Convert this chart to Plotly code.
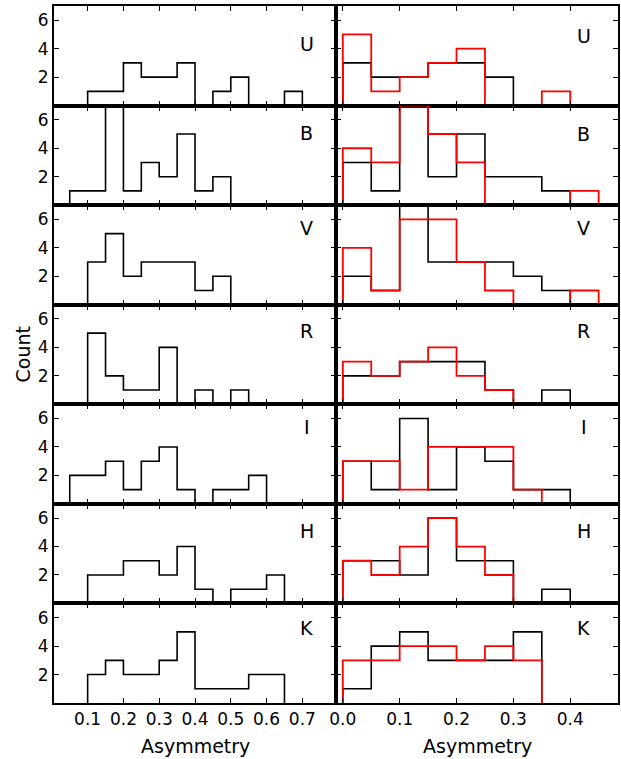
import numpy as np
import plotly.graph_objects as go
from plotly.subplots import make_subplots

bands = ["U", "B", "V", "R", "I", "H", "K"]

# Left column: bins of width 0.05 starting at 0.05
left_edges = np.round(0.05 + 0.05 * np.arange(14), 2)
left_U = [0, 1, 1, 3, 2, 2, 3, 0, 1, 2, 0, 0, 1]
left_B = [1, 1, 7, 1, 3, 2, 5, 1, 2, 0, 0, 0, 0]
left_V = [0, 3, 5, 2, 3, 3, 3, 1, 2, 0, 0, 0, 0]
left_R = [0, 5, 2, 1, 1, 4, 0, 1, 0, 1, 0, 0, 0]
left_I = [2, 2, 3, 1, 3, 4, 1, 0, 1, 1, 2, 0, 0]
left_H = [0, 2, 2, 3, 3, 2, 4, 1, 0, 1, 1, 2, 0]
left_K = [0, 2, 3, 2, 2, 3, 5, 1, 1, 1, 2, 2, 0]

# Right column: bins of width 0.05 starting at 0.0
right_edges = np.round(0.05 * np.arange(10), 2)
black_U = [3, 2, 2, 3, 3, 2, 0, 0, 0]
red_U = [5, 1, 2, 3, 4, 0, 0, 1, 0]
black_B = [3, 1, 7, 2, 5, 2, 2, 1, 0]
red_B = [4, 3, 7, 5, 3, 0, 0, 0, 1]
black_V = [2, 1, 7, 3, 3, 3, 2, 1, 0]
red_V = [4, 1, 6, 6, 3, 1, 0, 0, 1]
black_R = [2, 2, 3, 3, 3, 1, 0, 1, 0]
red_R = [3, 2, 3, 4, 2, 1, 0, 0, 0]
black_I = [3, 1, 6, 1, 4, 3, 1, 1, 0]
red_I = [3, 3, 1, 4, 4, 4, 1, 0, 0]
black_H = [3, 3, 2, 6, 3, 3, 0, 1, 0]
red_H = [3, 2, 4, 6, 4, 2, 0, 0, 0]
black_K = [1, 4, 5, 3, 3, 3, 5, 0, 0]
red_K = [3, 3, 4, 4, 3, 4, 3, 0, 0]

left_counts = [left_U, left_B, left_V, left_R, left_I, left_H, left_K]
right_black = [black_U, black_B, black_V, black_R, black_I, black_H, black_K]
right_red = [red_U, red_B, red_V, red_R, red_I, red_H, red_K]

left_ticks = [0.1, 0.2, 0.3, 0.4, 0.5, 0.6, 0.7]
right_ticks = [0.0, 0.1, 0.2, 0.3, 0.4]
y_ticks = [2, 4, 6]

label_y_left = [0.62, 0.72, 0.77, 0.74, 0.77, 0.73, 0.75]
label_y_right = [0.70, 0.71, 0.77, 0.74, 0.77, 0.73, 0.75]

FONT = "DejaVu Sans, Verdana, sans-serif"


def step_xy(edges, counts):
    counts = list(counts)
    nz = [i for i, c in enumerate(counts) if c > 0]
    lo, hi = nz[0], nz[-1]
    e = list(edges[lo:hi + 2])
    c = counts[lo:hi + 1]
    xs = [e[0]] + e[:-1] + [e[-1]]
    ys = [0] + c + [0]
    return xs, ys


def axname(idx):
    return "" if idx == 1 else str(idx)


fig = make_subplots(rows=7, cols=2, horizontal_spacing=0, vertical_spacing=0)

for r in range(7):
    xs, ys = step_xy(left_edges, left_counts[r])
    fig.add_trace(go.Scatter(x=xs, y=ys, mode="lines", line=dict(color="black", width=1.6, shape="hv"),
                             showlegend=False, hoverinfo="skip"), row=r + 1, col=1)
    xs, ys = step_xy(right_edges, right_black[r])
    fig.add_trace(go.Scatter(x=xs, y=ys, mode="lines", line=dict(color="black", width=1.6, shape="hv"),
                             showlegend=False, hoverinfo="skip"), row=r + 1, col=2)
    xs, ys = step_xy(right_edges, right_red[r])
    fig.add_trace(go.Scatter(x=xs, y=ys, mode="lines", line=dict(color="#ff0000", width=1.8, shape="hv"),
                             showlegend=False, hoverinfo="skip"), row=r + 1, col=2)

axis_common = dict(showline=True, linecolor="black", linewidth=2, mirror="ticks", ticks="inside",
                   ticklen=5, tickwidth=1, tickcolor="black", showgrid=False, zeroline=False,
                   layer="above traces",
                   tickfont=dict(family=FONT, size=17, color="black"))

for r in range(1, 8):
    fig.update_xaxes(range=[0.006, 0.794], tickvals=left_ticks, tickformat=".1f",
                     showticklabels=(r == 7), row=r, col=1, **axis_common)
    fig.update_xaxes(range=[-0.012, 0.484], tickvals=right_ticks, tickformat=".1f",
                     showticklabels=(r == 7), row=r, col=2, **axis_common)
    fig.update_yaxes(range=[0, 7], tickvals=y_ticks, showticklabels=True, row=r, col=1, **axis_common)
    fig.update_yaxes(range=[0, 7], tickvals=y_ticks, showticklabels=False, row=r, col=2, **axis_common)

annotations = []
for r in range(7):
    idx_l = axname(r * 2 + 1)
    idx_r = axname(r * 2 + 2)
    annotations.append(dict(text=bands[r], xref=f"x{idx_l} domain", yref=f"y{idx_l} domain",
                            x=0.896, y=label_y_left[r], showarrow=False, xanchor="center", yanchor="middle",
                            font=dict(family=FONT, size=19, color="black")))
    annotations.append(dict(text=bands[r], xref=f"x{idx_r} domain", yref=f"y{idx_r} domain",
                            x=0.878, y=label_y_right[r], showarrow=False, xanchor="center", yanchor="middle",
                            font=dict(family=FONT, size=19, color="black")))

annotations.append(dict(text="Count", xref="paper", yref="paper", x=0, y=0.5, xshift=-32,
                        textangle=-90, showarrow=False, xanchor="center", yanchor="middle",
                        font=dict(family=FONT, size=19, color="black")))
annotations.append(dict(text="Asymmetry", xref="x13 domain", yref="paper", x=0.5, y=0, yshift=-30,
                        showarrow=False, xanchor="center", yanchor="top",
                        font=dict(family=FONT, size=19, color="black")))
annotations.append(dict(text="Asymmetry", xref="x14 domain", yref="paper", x=0.5, y=0, yshift=-30,
                        showarrow=False, xanchor="center", yanchor="top",
                        font=dict(family=FONT, size=19, color="black")))

fig.update_layout(width=621, height=759, margin=dict(l=54, r=1, t=6, b=56),
                  paper_bgcolor="white", plot_bgcolor="white", annotations=annotations,
                  font=dict(family=FONT, size=17, color="black"))

fig.write_html("out.html", config={"displayModeBar": False},
               post_script="document.body.style.margin='0';document.body.style.overflow='hidden';")
